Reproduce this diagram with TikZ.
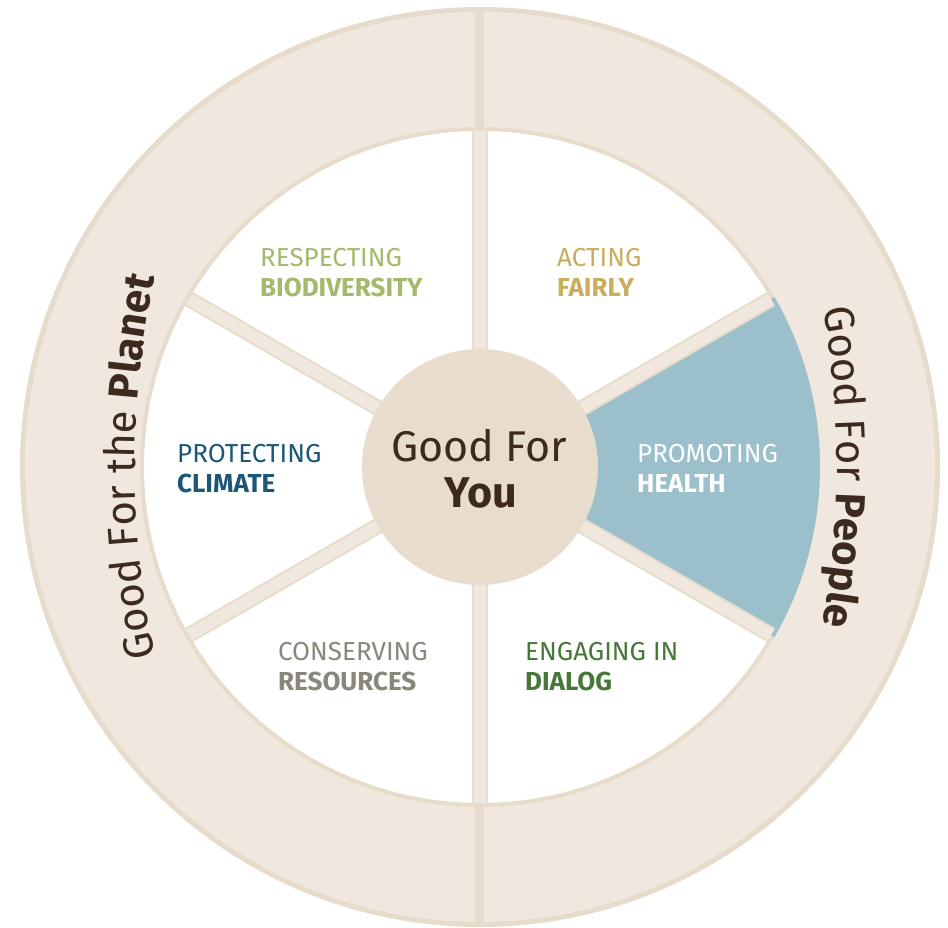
\documentclass[tikz,border=0pt]{standalone}
\usepackage{fontspec}
\setmainfont{Fira Sans}
\usetikzlibrary{decorations.text,positioning}

\definecolor{ringfill}{HTML}{F0E8DE}
\definecolor{ringline}{HTML}{E7DCCB}
\definecolor{hubfill}{HTML}{E8DDCC}
\definecolor{healthblue}{HTML}{9BBFCB}
\definecolor{biogreen}{HTML}{A3B96B}
\definecolor{fairgold}{HTML}{C9AE5D}
\definecolor{climateblue}{HTML}{1D5777}
\definecolor{resgray}{HTML}{8A867C}
\definecolor{dialoggreen}{HTML}{477838}
\definecolor{darkbrown}{HTML}{3D2A1F}

\newcommand{\labfont}{\fontsize{26}{30}\selectfont}
\newcommand{\hubfont}{\fontsize{43}{46}\selectfont}
\newcommand{\ringfont}{\fontsize{42}{44}\selectfont}

\begin{document}
\begin{tikzpicture}[x=1pt,y=1pt,
    lab/.style={font=\labfont, anchor=base west, inner sep=0pt},
    labbold/.style={lab, font=\labfont\bfseries},
    hubtext/.style={font=\hubfont, anchor=base, inner sep=0pt, text=darkbrown},
    spokeedge/.style={ringline, line width=16},
    spokefill/.style={ringfill, line width=12}]
  \useasboundingbox (-480,-461) rectangle (468,467);

  % outer ring
  \draw [ringline, line width=5, fill=ringfill] (0,0) circle [radius=457.5];
  \draw [ringline, line width=9] (90:338) -- (90:456);
  \draw [ringline, line width=9] (-90:338) -- (-90:456);

  % inner wheel
  \draw [ringline, line width=4, fill=white] (0,0) circle [radius=338];
  \fill [healthblue] (0,0) -- (-30:340) arc [start angle=-30, end angle=30, radius=340] -- cycle;
  \foreach \a in {30,90,...,330} {
    \draw [spokeedge] (0,0) -- (\a:336);
    \draw [spokefill] (0,0) -- (\a:336);
  }
  \fill [hubfill] (0,0) circle [radius=118];

  % ring texts (flat arcs)
  \path [shift={(555,0)}, decorate, decoration={text along path, text align=center, text color=darkbrown,
      text={|\ringfont|Good For the |\ringfont\bfseries|Planet}}]
    (195:900) arc [start angle=195, end angle=165, radius=900];
  \path [shift={(-543,0)}, decorate, decoration={text along path, text align=center, text color=darkbrown,
      text={|\ringfont|Good For |\ringfont\bfseries|People}}]
    (15:900) arc [start angle=15, end angle=-15, radius=900];

  % hub
  \node [hubtext] (hubtop) at (-1,5) {Good For};
  \node [hubtext, font=\hubfont\bfseries] (hubbot) at (1,-41) {You};

  % sectors
  \node [lab, text=biogreen] (bioT) at (-220,200) {RESPECTING};
  \node [labbold, text=biogreen] (bioB) at ([yshift=-30]bioT.base west) {BIODIVERSITY};

  \node [lab, text=fairgold] (fairT) at (77,200) {ACTING};
  \node [labbold, text=fairgold] (fairB) at ([yshift=-30]fairT.base west) {FAIRLY};

  \node [lab, text=climateblue] (climT) at (-303,4) {PROTECTING};
  \node [labbold, text=climateblue] (climB) at ([yshift=-30]climT.base west) {CLIMATE};

  \node [lab, text=white] (heaT) at (157,4) {PROMOTING};
  \node [labbold, text=white] (heaB) at ([yshift=-30]heaT.base west) {HEALTH};

  \node [lab, text=resgray] (resT) at (-202,-194) {CONSERVING};
  \node [labbold, text=resgray] (resB) at ([yshift=-30]resT.base west) {RESOURCES};

  \node [lab, text=dialoggreen] (diaT) at (45,-194) {ENGAGING IN};
  \node [labbold, text=dialoggreen] (diaB) at ([yshift=-30]diaT.base west) {DIALOG};
\end{tikzpicture}
\end{document}
